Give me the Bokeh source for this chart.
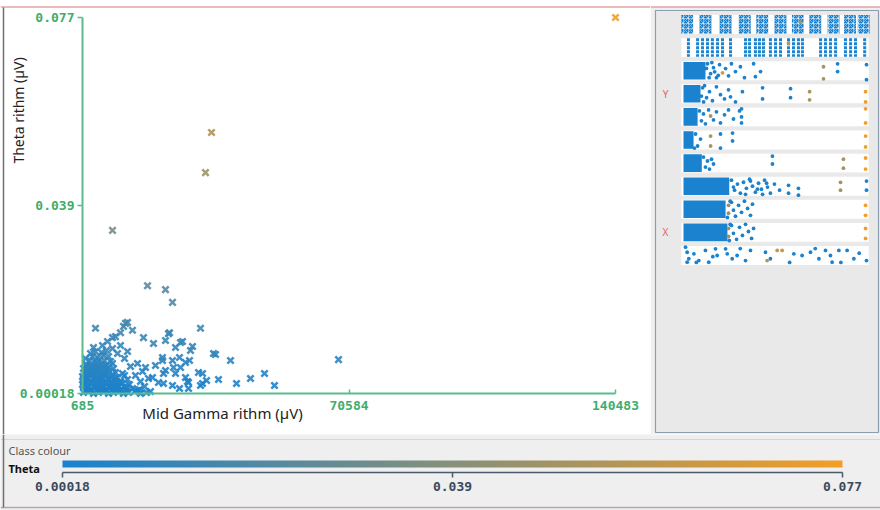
import math
from bokeh.plotting import figure
from bokeh.models import (Range1d, FixedTicker, Label, ColorBar, LinearColorMapper,
                          ColumnDataSource, LinearAxis)
from bokeh.layouts import column, row
from bokeh.transform import transform
from bokeh.core.properties import value
from bokeh.embed import file_html
from bokeh.resources import INLINE

# ------------------------------------------------------------------ data
x_title = "Mid Gamma rithm (µV)"
y_title = "Theta rithm (µV)"
class_name = "Theta"

x_ticks = [685, 70584, 140483]
x_tick_labels = ["685", "70584", "140483"]
y_ticks = [0.00018, 0.03859, 0.077]
y_tick_labels = ["0.00018", "0.039", "0.077"]

# main scatter: Mid Gamma (x) vs Theta (y), coloured by Theta
mid_gamma = [
    # outliers
    140483, 34522, 32948, 8554, 17735, 22456, 24292, 31636, 67834,
    # dense cluster near the origin
    947, 2259, 3570, 4882, 6193, 7505, 8816, 10128, 11439, 12751, 14325, 15898, 17472,
    1734, 3046, 4357, 5669, 6980, 8292, 9603, 10915, 12226,
    1472, 2783, 4095, 5406, 6718, 8029, 9341, 10652, 12226, 13800, 15636,
    947, 2259, 3570, 4882, 6193, 7505, 8816, 10128, 11702,
    685, 1997, 3308, 4620, 5931, 7243, 8554, 9866, 11177, 13013,
    1472, 2783, 4095, 5406, 6718, 8029, 9341, 10652,
    1210, 2521, 3833, 5144, 6456, 7767, 9079, 10652, 12489,
    947, 2259, 3570, 4882, 6193, 7505, 9079,
    685, 1734, 3046, 4357, 5669, 6980, 8292, 9866, 11702,
    1734, 3046, 4357, 5669, 6980, 8554,
    1210, 2521, 3833, 5144, 6456, 7767, 9341, 11177,
    1472, 2783, 4095, 5406, 6980,
    947, 2259, 3570, 4882, 6193, 7505, 8816,
    1734, 3046, 4357, 5931,
    1734, 3046, 4357, 5669, 6980, 8554,
    2521, 3833, 5144, 6456, 8029,
    3308, 4620, 6193, 7505,
    4095, 5669, 6980,
    # cluster edge
    15112, 16947, 18521, 15898, 17997, 14587, 16423, 13275, 15112, 11702,
    9866, 8554, 5931, 7243, 2783, 1472, 12489, 10652,
    # scattered points
    16685, 23505, 26915, 29538, 35571, 39505, 28751, 26128, 32161, 36358,
    41079, 44751, 48423, 51046, 26128, 28226, 31636, 33210, 21931, 21669,
    19308, 24554, 26390, 4095, 12489, 11439, 13800, 9341, 3570, 35046,
    28489, 21931, 23243, 26390, 11964, 22456, 25079, 29013, 21669, 24292,
    27702, 22456, 25079, 27702, 31112, 32161, 28489, 24292, 20620, 19046,
    19833, 17210, 10652, 8554,
]
theta = [
    # outliers
    0.0770, 0.0535, 0.0453, 0.0335, 0.0222, 0.0214, 0.0188, 0.0135, 0.0071,
    # dense cluster near the origin
    0.00038, 0.00059, 0.00018, 0.00038, 0.00059, 0.00018, 0.00038, 0.00059, 0.00018, 0.00038, 0.00059, 0.00018, 0.00038,
    0.00079, 0.00079, 0.00079, 0.00079, 0.00079, 0.00079, 0.00079, 0.00079, 0.00079,
    0.00120, 0.00100, 0.00141, 0.00120, 0.00100, 0.00141, 0.00120, 0.00100, 0.00141, 0.00120, 0.00100,
    0.00161, 0.00161, 0.00161, 0.00161, 0.00161, 0.00161, 0.00161, 0.00161, 0.00161,
    0.00202, 0.00181, 0.00222, 0.00202, 0.00181, 0.00222, 0.00202, 0.00181, 0.00222, 0.00202,
    0.00243, 0.00243, 0.00243, 0.00243, 0.00243, 0.00243, 0.00243, 0.00243,
    0.00284, 0.00263, 0.00304, 0.00284, 0.00263, 0.00304, 0.00284, 0.00263, 0.00304,
    0.00324, 0.00324, 0.00324, 0.00324, 0.00324, 0.00324, 0.00324,
    0.00365, 0.00345, 0.00386, 0.00365, 0.00345, 0.00386, 0.00365, 0.00345, 0.00386,
    0.00406, 0.00406, 0.00406, 0.00406, 0.00406, 0.00406,
    0.00447, 0.00427, 0.00467, 0.00447, 0.00427, 0.00467, 0.00447, 0.00427,
    0.00488, 0.00488, 0.00488, 0.00488, 0.00488,
    0.00529, 0.00508, 0.00549, 0.00529, 0.00508, 0.00549, 0.00529,
    0.00570, 0.00570, 0.00570, 0.00570,
    0.00610, 0.00590, 0.00631, 0.00610, 0.00590, 0.00631,
    0.00692, 0.00672, 0.00713, 0.00692, 0.00672,
    0.00774, 0.00754, 0.00794, 0.00774,
    0.00876, 0.00856, 0.00897,
    # cluster edge
    0.00079, 0.00161, 0.00059, 0.00263, 0.00324, 0.00386, 0.00467, 0.00570, 0.00631, 0.00733,
    0.00835, 0.00937, 0.00999, 0.0108, 0.00835, 0.00733, 0.00876, 0.00999,
    # scattered points
    0.0116, 0.0126, 0.0108, 0.00978, 0.00815, 0.00692, 0.00692, 0.00754, 0.00427, 0.00304,
    0.00222, 0.00324, 0.00427, 0.00181, 0.00120, 0.00263, 0.00181, 0.00284, 0.00427, 0.00692,
    0.0104, 0.00549, 0.00549, 0.0135, 0.0147, 0.0139, 0.0131, 0.0118, 0.00958, 0.00835,
    0.00243, 0.00222, 0.0124, 0.0106, 0.0145, 0.0110, 0.00958, 0.00897, 0.00754, 0.00692,
    0.00651, 0.00488, 0.00427, 0.00345, 0.00447, 0.00222, 0.00120, 0.00181, 0.00243, 0.00345,
    0.00590, 0.00549, 0.0126, 0.0116,
]
assert len(mid_gamma) == len(theta)

# attribute panel (values normalised 0..1, one strip per attribute)
n_attributes = 11
y_attr_index = 3   # Theta
x_attr_index = 9   # Mid Gamma

row0_groups = [0.02, 0.12, 0.23, 0.335, 0.43, 0.53, 0.625, 0.72, 0.82, 0.91, 0.985]
row1_values = [0.027, 0.077, 0.104, 0.131, 0.158, 0.186, 0.213, 0.257, 0.339, 0.361,
               0.393, 0.415, 0.437, 0.475, 0.503, 0.53, 0.574, 0.601, 0.628, 0.65,
               0.749, 0.776, 0.803, 0.831, 0.885, 0.913, 0.94, 0.99]
dense_rows = [2, 3, 4, 5, 6, 7, 8, 9]
dense_end = [0.12, 0.093, 0.077, 0.055, 0.10, 0.25, 0.23, 0.24]

row2_val = [0.125, 0.14, 0.155, 0.17, 0.19, 0.131, 0.148, 0.164, 0.18, 0.197, 0.23, 0.246,
            0.262, 0.284, 0.311, 0.333, 0.383, 0.393, 0.421, 0.842, 0.842, 1.0, 1.0]
row2_jit = [-0.10, 0.30, -0.35, 0.05, 0.20, -0.30, 0.13, -0.13, 0.30, -0.26, -0.09, 0.22,
            -0.30, 0.04, -0.17, 0.30, -0.30, 0.26, 0.04, -0.30, 0.04, -0.26, 0.39]
row3_val = [0.098, 0.11, 0.115, 0.104, 0.126, 0.142, 0.158, 0.18, 0.202, 0.224, 0.246, 0.257,
            0.284, 0.322, 0.432, 0.432, 0.585, 0.585]
row3_jit = [0.10, 0.35, -0.35, -0.26, 0.17, -0.09, 0.30, -0.30, 0.04, 0.22, -0.17, 0.13,
            0.35, -0.09, -0.26, 0.22, -0.22, 0.17]
row4_val = [0.087, 0.098, 0.109, 0.12, 0.137, 0.164, 0.18, 0.202, 0.224, 0.246, 0.273, 0.306,
            0.317, 0.317, 0.317]
row4_jit = [-0.26, 0.17, -0.13, 0.30, -0.30, 0.13, -0.22, 0.26, -0.09, -0.30, 0.09, -0.26,
            -0.35, 0.0, 0.26]
row5_val = [0.066, 0.077, 0.093, 0.06, 0.202, 0.202, 0.268, 0.268]
row5_jit = [-0.26, 0.26, -0.04, 0.35, -0.26, 0.35, -0.30, 0.04]
row6_val = [0.109, 0.12, 0.131, 0.142, 0.153, 0.164, 0.486, 0.486]
row6_jit = [-0.26, 0.17, -0.09, 0.26, -0.17, 0.04, -0.30, 0.04]
row7_val = [0.262, 0.279, 0.295, 0.311, 0.328, 0.344, 0.361, 0.377, 0.393, 0.41, 0.426, 0.443,
            0.459, 0.475, 0.497, 0.525, 0.574, 0.574, 0.628, 0.628, 1.0, 1.0, 0.273, 0.339,
            0.366, 0.404, 0.432, 0.454]
row7_jit = [-0.26, 0.17, -0.09, 0.30, -0.17, 0.09, -0.30, 0.0, 0.26, -0.13, 0.13, -0.26,
            0.04, 0.30, -0.09, 0.17, -0.04, 0.30, 0.09, 0.39, -0.22, 0.17, 0.04, 0.35,
            -0.22, 0.13, 0.35, -0.13]
row8_val = [0.262, 0.273, 0.284, 0.301, 0.317, 0.333, 0.35, 0.366, 0.377, 0.24, 0.255]
row8_jit = [-0.30, 0.04, 0.30, -0.17, 0.13, -0.35, -0.04, 0.26, -0.22, 0.35, -0.35]
row9_val = [0.262, 0.273, 0.29, 0.306, 0.322, 0.339, 0.355, 0.372, 0.383, 0.25, 0.255]
row9_jit = [-0.30, 0.04, 0.30, -0.22, 0.13, -0.35, -0.04, 0.26, -0.17, 0.35, -0.35]
row10_val = [0.011, 0.02, 0.029, 0.02, 0.057, 0.084, 0.12, 0.138, 0.175, 0.184, 0.23, 0.239,
             0.266, 0.293, 0.339, 0.366, 0.448, 0.475, 0.603, 0.648, 0.694, 0.74, 0.776,
             0.803, 0.812, 0.849, 0.894, 0.931, 1.0, 0.07, 0.16, 0.31, 0.58, 0.72, 0.86, 0.96]
row10_jit = [-0.36, -0.14, 0.14, 0.29, -0.07, 0.22, -0.22, 0.29, -0.29, 0.0, -0.29, -0.07,
             0.14, 0.0, 0.22, -0.22, -0.14, 0.14, -0.07, 0.0, -0.14, 0.14, -0.22,
             0.0, 0.29, -0.22, -0.22, 0.14, 0.22, 0.30, 0.05, -0.30, 0.30, -0.30, 0.30, -0.10]

# high-Theta instances in the attribute panel
hi_row = [0, 1, 2, 2, 2, 3, 3, 3, 3, 4, 4, 4, 5, 5, 5, 5, 6, 6, 6, 6, 7, 7, 8, 8, 8, 8,
          9, 9, 9, 9, 10, 10, 10]
hi_val = [0.64, 0.574, 0.213, 0.765, 0.765, 0.689, 0.689, 0.995, 0.995, 0.148, 0.995, 0.995,
          0.148, 0.148, 0.995, 0.995, 0.874, 0.874, 0.995, 0.995, 0.858, 0.858, 0.246, 0.246,
          0.995, 0.995, 0.246, 0.246, 0.995, 0.995, 0.512, 0.539, 0.457]
hi_jit = [-0.1, -0.2, 0.09, -0.17, 0.35, -0.09, 0.26, -0.09, 0.35, -0.04, -0.35, 0.26,
          -0.17, 0.26, -0.17, 0.30, -0.17, 0.22, -0.22, 0.26, -0.17, 0.17, -0.17, 0.17,
          -0.17, 0.26, -0.17, 0.17, -0.17, 0.26, -0.22, -0.22, 0.22]
hi_theta = [0.05, 0.06, 0.065, 0.05, 0.05, 0.05, 0.05, 0.077, 0.077, 0.05, 0.077, 0.077,
            0.05, 0.05, 0.077, 0.077, 0.05, 0.05, 0.077, 0.077, 0.048, 0.048, 0.045, 0.045,
            0.077, 0.077, 0.045, 0.045, 0.077, 0.077, 0.06, 0.06, 0.055]

# ------------------------------------------------------------------ styles
BLUE = (26, 130, 206)
ORANGE = (242, 158, 38)
BLUE_HEX = "#%02x%02x%02x" % BLUE
GREEN_LINE = "#5bbb8c"
GREEN_TEXT = "#3dae6c"
MONO = "DejaVu Sans Mono"
SANS = "Noto Sans"
PANEL = "#efefef"

palette = []
for i in range(256):
    t = i / 255
    palette.append("#%02x%02x%02x" % tuple(round(a + (b - a) * t) for a, b in zip(BLUE, ORANGE)))
mapper = LinearColorMapper(palette=palette, low=y_ticks[0], high=y_ticks[-1])

gmin, gmax = x_ticks[0], x_ticks[-1]
tmin, tmax = y_ticks[0], y_ticks[-1]


def style_axis(ax, ticks, labels, line_color, text_color):
    ax.ticker = FixedTicker(ticks=ticks)
    ax.major_label_overrides = {t: l for t, l in zip(ticks, labels)}
    ax.axis_line_color = line_color
    ax.major_tick_line_color = line_color
    ax.major_tick_line_width = 1.5
    ax.minor_tick_line_color = None
    ax.major_label_text_color = text_color
    ax.major_label_text_font = MONO
    ax.major_label_text_font_style = "bold"
    ax.major_label_text_font_size = "13px"


# ------------------------------------------------------------------ main plot (650 x 434)
PW, PH = 650, 434
AX_L, AX_R, AX_T, AX_B = 82, 615, 17, 393          # pixel box of the data extent
px_x = (AX_R - AX_L) / (gmax - gmin)
px_y = (AX_B - AX_T) / (tmax - tmin)


def cx(px):   # page pixel -> data x of the main plot (frame decorations only)
    return gmin + (px - AX_L) / px_x


def cy(py):
    return tmin + (AX_B - py) / px_y


p = figure(width=PW, height=PH, output_backend="svg", toolbar_location=None, title=None,
           x_range=Range1d(cx(0), cx(PW)), y_range=Range1d(cy(PH), cy(0)),
           x_axis_location=None, y_axis_location=None, min_border=0)
p.background_fill_color = "white"
p.border_fill_color = "white"
p.outline_line_color = None
p.grid.visible = False

# window frame lines
p.segment(x0=[cx(0)], x1=[cx(PW)], y0=[cy(6.5)], y1=[cy(6.5)], line_color="#e2a4a4", line_width=1.5)
p.segment(x0=[cx(3)], x1=[cx(3)], y0=[cy(7)], y1=[cy(PH)], line_color="#707070", line_width=1.5)

xa = LinearAxis(fixed_location=tmin, bounds=(gmin, gmax))
style_axis(xa, x_ticks, x_tick_labels, GREEN_LINE, GREEN_TEXT)
xa.axis_line_width = 2
xa.major_tick_in = 4
xa.major_tick_out = 0
xa.major_label_standoff = 7
p.add_layout(xa, "below")

ya = LinearAxis(fixed_location=gmin, bounds=(tmin, tmax))
style_axis(ya, y_ticks, y_tick_labels, GREEN_LINE, GREEN_TEXT)
ya.axis_line_width = 2
ya.major_tick_in = 0
ya.major_tick_out = 5
ya.major_label_standoff = 3
p.add_layout(ya, "left")

src = ColumnDataSource(dict(mid_gamma=mid_gamma, theta=theta))
p.scatter("mid_gamma", "theta", source=src, marker="x", size=9, line_width=2.5,
          line_color=transform("theta", mapper), line_alpha=0.9)

p.add_layout(Label(x=18, y=110, x_units="canvas", y_units="canvas", text=y_title,
                   angle=math.pi / 2, text_align="center", text_baseline="middle",
                   text_font=SANS, text_font_size="14px", text_color="#222222"))
p.add_layout(Label(x=222, y=412, x_units="canvas", y_units="canvas", text=x_title,
                   text_align="center", text_baseline="middle",
                   text_font=SANS, text_font_size="15px", text_color="#222222"))

# ------------------------------------------------------------------ attribute panel (230 x 434)
SW = 880 - PW
ST_L, ST_R = 683, 866          # strip extent in page pixels (value 0 .. 1)
ROW0, ROW_STEP = 24, 23.1      # first strip centre, strip spacing (pixels)
ux = ST_R - ST_L
s = figure(width=SW, height=PH, output_backend="svg", toolbar_location=None, title=None,
           x_range=Range1d((PW - ST_L) / ux, (880 - ST_L) / ux),
           y_range=Range1d((PH - ROW0) / ROW_STEP, -ROW0 / ROW_STEP),
           x_axis_location=None, y_axis_location=None, min_border=0)
s.grid.visible = False
s.background_fill_color = "white"
s.border_fill_color = PANEL
s.outline_line_color = None

# panel background and box
s.quad(left=[(PW - ST_L) / ux], right=[(880 - ST_L) / ux], top=[(6.5 - ROW0) / ROW_STEP],
       bottom=[(PH - ROW0) / ROW_STEP], fill_color=PANEL, line_color=None)
s.segment(x0=[(PW - ST_L) / ux], x1=[(880 - ST_L) / ux], y0=[(6.5 - ROW0) / ROW_STEP],
          y1=[(6.5 - ROW0) / ROW_STEP], line_color="#e2a4a4", line_width=1.5)
s.quad(left=(655 - ST_L) / ux, right=(878 - ST_L) / ux, top=(10 - ROW0) / ROW_STEP,
       bottom=(432 - ROW0) / ROW_STEP, fill_color="#e9e9e9", line_color="#8d9db0", line_width=1.2)

strips = list(range(n_attributes))
s.hbar(y=strips, left=-0.012, right=1.012, height=0.82, fill_color="white", line_color=None)

s.rect(x=row0_groups, y=[0] * len(row0_groups), width=0.065, height=0.82,
       fill_color=BLUE_HEX, line_color=None,
       hatch_pattern="criss_cross", hatch_color="white", hatch_scale=5, hatch_weight=1,
       hatch_alpha=0.45)
s.segment(x0=row1_values, y0=[1 - 0.4] * len(row1_values), x1=row1_values,
          y1=[1 + 0.4] * len(row1_values), line_color=BLUE_HEX, line_width=3, line_dash="3 1")
s.hbar(y=dense_rows, left=0, right=dense_end, height=0.76, fill_color=BLUE_HEX, line_color=None)

rows_val = {2: row2_val, 3: row3_val, 4: row4_val, 5: row5_val, 6: row6_val,
            7: row7_val, 8: row8_val, 9: row9_val, 10: row10_val}
rows_jit = {2: row2_jit, 3: row3_jit, 4: row4_jit, 5: row5_jit, 6: row6_jit,
            7: row7_jit, 8: row8_jit, 9: row9_jit, 10: row10_jit}
dx, dy = [], []
for r in rows_val:
    assert len(rows_val[r]) == len(rows_jit[r])
    dx += rows_val[r]
    dy += [r + j for j in rows_jit[r]]
s.scatter(x=dx, y=dy, marker="circle", size=3.8, fill_color=BLUE_HEX, line_color=None)

hsrc = ColumnDataSource(dict(x=hi_val, y=[r + j for r, j in zip(hi_row, hi_jit)], theta=hi_theta))
s.scatter("x", "y", source=hsrc, marker="circle", size=3.8,
          fill_color=transform("theta", mapper), line_color=None)

s.text(x=[(665 - ST_L) / ux] * 2, y=[y_attr_index, x_attr_index], text=["Y", "X"],
       text_color="#e06464", text_font=value(SANS), text_font_size="10px",
       text_align="center", text_baseline="middle")

# ------------------------------------------------------------------ class colour bar (880 x 76)
BH = 510 - PH
CB_L, CB_R = 62, 842
pb = (CB_R - CB_L) / (tmax - tmin)
bx0, bx1 = tmin - CB_L / pb, tmax + (880 - CB_R) / pb
b = figure(width=880, height=BH, output_backend="svg", toolbar_location=None, title=None,
           x_range=Range1d(bx0, bx1),
           y_range=Range1d(BH, 0), x_axis_location=None, y_axis_location=None, min_border=0)
b.grid.visible = False
b.background_fill_color = PANEL
b.border_fill_color = PANEL
b.outline_line_color = None

b.segment(x0=[bx0], x1=[bx1], y0=[5], y1=[5], line_color="#d6d6d6", line_width=1)
b.segment(x0=[bx0], x1=[bx1], y0=[73], y1=[73], line_color="#b9a9a4", line_width=1.5)
b.segment(x0=[tmin + (3 - CB_L) / pb] * 2, x1=[tmin + (3 - CB_L) / pb] * 2, y0=[0], y1=[73],
          line_color="#707070", line_width=1.5)

bx = LinearAxis(fixed_location=38, bounds=(tmin, tmax))
style_axis(bx, y_ticks, y_tick_labels, "#4a5a6b", "#3a4a5c")
bx.axis_line_width = 1.5
bx.major_tick_in = 0
bx.major_tick_out = 5
bx.major_label_standoff = 4
b.add_layout(bx, "below")

cb = ColorBar(color_mapper=mapper, orientation="horizontal", location=(CB_L, 43),
              width=CB_R - CB_L, height=7, padding=0, margin=0, ticker=FixedTicker(ticks=[]),
              major_tick_in=0, major_tick_out=0, label_standoff=0,
              bar_line_color=None, border_line_color=None, background_fill_alpha=0)
b.add_layout(cb, "center")

b.add_layout(Label(x=8, y=16, x_units="canvas", y_units="canvas", text="Class colour",
                   text_align="left", text_baseline="middle", text_font=SANS,
                   text_font_size="11px", text_color="#555555"))
b.add_layout(Label(x=8, y=34, x_units="canvas", y_units="canvas", text=class_name,
                   text_align="left", text_baseline="middle", text_font=SANS,
                   text_font_size="11px", text_font_style="bold", text_color="#111111"))

layout = column(row(p, s, spacing=0), b, spacing=0)
open("out.html", "w").write(file_html(layout, INLINE))
